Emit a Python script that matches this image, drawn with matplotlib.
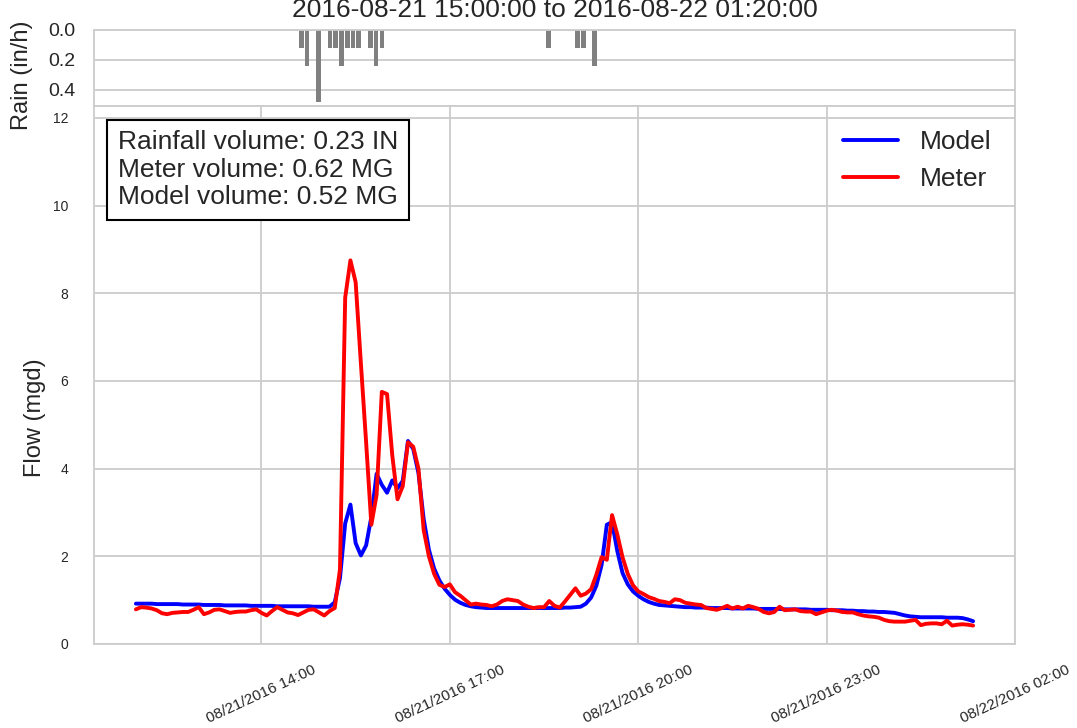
import matplotlib
matplotlib.use("Agg")
import matplotlib.pyplot as plt
import matplotlib.dates as mdates
import pandas as pd
import seaborn as sns

sns.set_style("whitegrid")
plt.rcParams['font.family'] = ['Liberation Sans', 'DejaVu Sans']
plt.rcParams['grid.linewidth'] = 1.3
plt.rcParams['axes.linewidth'] = 1.3

# flow series, 5 minute steps from 08/21/2016 12:00
model = [
    0.92, 0.92, 0.92, 0.92, 0.91, 0.91, 0.91, 0.91, 0.91, 0.90,
    0.90, 0.90, 0.90, 0.89, 0.89, 0.89, 0.89, 0.88, 0.88, 0.88,
    0.88, 0.88, 0.87, 0.87, 0.87, 0.87, 0.87, 0.86, 0.86, 0.86,
    0.86, 0.86, 0.86, 0.86, 0.85, 0.85, 0.85, 0.85,
    0.95, 1.50, 2.75, 3.18, 2.30, 2.02, 2.25, 2.90, 3.88, 3.63,
    3.45, 3.73, 3.55, 3.72, 4.63, 4.45, 3.90, 2.85, 2.15, 1.72,
    1.45, 1.26, 1.12, 1.01, 0.94, 0.89, 0.86, 0.84, 0.83,
    0.82, 0.82, 0.82, 0.82, 0.82, 0.82, 0.82, 0.82, 0.82, 0.82,
    0.82, 0.82, 0.82, 0.82, 0.82, 0.83, 0.83,
    0.84, 0.85, 0.92, 1.06, 1.33, 1.80, 2.72, 2.78, 2.12, 1.62,
    1.36, 1.20, 1.10, 1.02, 0.96, 0.92, 0.89, 0.88, 0.87, 0.86,
    0.85, 0.84, 0.84, 0.83, 0.83,
    0.83, 0.82, 0.82, 0.82, 0.82, 0.81, 0.81, 0.81, 0.81, 0.81,
    0.80, 0.80, 0.80, 0.80, 0.80, 0.79, 0.79, 0.79, 0.79, 0.79,
    0.78, 0.78, 0.78, 0.78,
    0.77, 0.77, 0.77, 0.76, 0.76, 0.75, 0.75, 0.74, 0.74, 0.73,
    0.73, 0.72, 0.71, 0.68, 0.65, 0.63, 0.62,
    0.61, 0.61, 0.61, 0.61, 0.61, 0.60, 0.60, 0.60, 0.59, 0.56,
    0.52,
]
meter = [
    0.79, 0.84, 0.83, 0.81, 0.77, 0.70, 0.68, 0.71, 0.72, 0.73,
    0.73, 0.78, 0.84, 0.68, 0.72, 0.78, 0.79, 0.75, 0.71, 0.73,
    0.74, 0.74, 0.77, 0.79, 0.71, 0.65, 0.75, 0.84, 0.78, 0.72,
    0.70, 0.66, 0.72, 0.78, 0.79, 0.72, 0.65, 0.75,
    0.82, 1.70, 7.90, 8.75, 8.25, 6.40, 4.60, 2.72, 3.40, 5.75,
    5.70, 4.30, 3.30, 3.60, 4.60, 4.50, 4.00, 2.60, 2.00, 1.60,
    1.35, 1.30, 1.36, 1.18, 1.10, 1.00, 0.90, 0.92, 0.90, 0.89,
    0.86, 0.90, 0.98, 1.02, 1.00, 0.98, 0.90, 0.85, 0.82, 0.84,
    0.84, 0.98, 0.87, 0.83, 0.97, 1.12, 1.27, 1.10, 1.15, 1.25,
    1.58, 1.98, 1.92, 2.94, 2.50, 1.98, 1.60, 1.34, 1.20, 1.14,
    1.07, 1.03, 0.98, 0.96, 0.93, 1.02, 1.00, 0.94, 0.92, 0.90,
    0.89, 0.82, 0.80, 0.78, 0.82, 0.87, 0.81, 0.85, 0.81, 0.87,
    0.84, 0.80, 0.73, 0.70, 0.73, 0.85, 0.77, 0.78, 0.79, 0.75,
    0.74, 0.74, 0.68, 0.72, 0.76, 0.78, 0.76, 0.73, 0.72, 0.72,
    0.68, 0.65, 0.63, 0.62, 0.60, 0.55, 0.52, 0.51, 0.51, 0.51,
    0.53, 0.55, 0.43, 0.46, 0.47, 0.47, 0.45, 0.53, 0.42, 0.44,
    0.45, 0.44, 0.42,
]
times = pd.date_range('2016-08-21 12:00', periods=len(model), freq='5min')

# rainfall intensity (in/h)
rain_times = pd.to_datetime([
    '2016-08-21 15:00', '2016-08-21 15:05', '2016-08-21 15:15', '2016-08-21 15:25',
    '2016-08-21 15:30', '2016-08-21 15:35', '2016-08-21 15:40', '2016-08-21 15:45',
    '2016-08-21 15:50', '2016-08-21 16:00', '2016-08-21 16:05', '2016-08-21 16:10',
    '2016-08-21 18:35', '2016-08-21 19:00', '2016-08-21 19:05', '2016-08-21 19:15',
])
rain = [0.12, 0.24, 0.48, 0.12, 0.12, 0.24, 0.12, 0.12,
        0.12, 0.12, 0.24, 0.12, 0.12, 0.12, 0.12, 0.24]

fig = plt.figure(figsize=(10.77, 7.28), dpi=100)
ax_rain = fig.add_axes([0.0873, 0.8544, 0.8551, 0.1044])
ax = fig.add_axes([0.0873, 0.1154, 0.8551, 0.7390])

# rain on top, inverted
ax_rain.bar(rain_times, rain, width=4 / 1440, color='grey', linewidth=0)
ax_rain.set_xlim(times[0], times[-1])
ax_rain.set_ylim(0.507, 0)
ax_rain.set_yticks([0, 0.2, 0.4])
ax_rain.set_xticks([])
ax_rain.tick_params(axis='y', labelsize=14, length=0, pad=13.5)
ax_rain.set_ylabel('Rain (in/h)', fontsize=17)
ax_rain.yaxis.set_label_coords(-0.066, 0.41)
ax_rain.set_title('2016-08-21 15:00:00 to 2016-08-22 01:20:00', fontsize=19, pad=9)

# flow
ax.plot(times, model, color='blue', lw=2.8, label='Model')
ax.plot(times, meter, color='red', lw=2.8, label='Meter')
ax.set_ylim(0, 12.27)
ax.set_yticks(range(0, 13, 2))
ax.xaxis.set_major_locator(mdates.HourLocator(byhour=[2, 5, 8, 11, 14, 17, 20, 23]))
ax.xaxis.set_major_formatter(mdates.DateFormatter('%m/%d/%Y %H:%M'))
ax.tick_params(axis='y', labelsize=10, length=0, pad=18.5)
ax.tick_params(axis='x', labelsize=11, length=0, pad=13.5)
plt.setp(ax.get_xticklabels(), rotation=25)
ax.set_ylabel('Flow (mgd)', fontsize=17)
ax.yaxis.set_label_coords(-0.052, 0.42)
ax.legend(loc='upper right', fontsize=19, frameon=False, handlelength=2.1)

ax.text(0.026, 0.955,
        'Rainfall volume: 0.23 IN\nMeter volume: 0.62 MG\nModel volume: 0.52 MG',
        transform=ax.transAxes, fontsize=19, va='top', ha='left', linespacing=1.18,
        bbox=dict(boxstyle='square,pad=0.4', facecolor='white',
                  edgecolor='black', linewidth=1.5))

fig.savefig('out.png', dpi=100)
